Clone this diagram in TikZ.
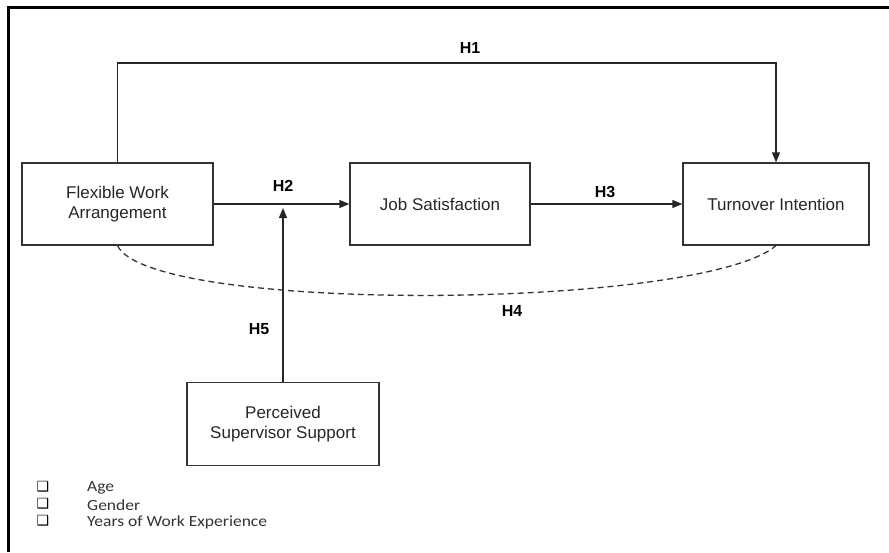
\documentclass[tikz,border=0pt]{standalone}
\usepackage{fontspec}
\setmainfont{Liberation Sans}
\newfontfamily\legendfont[FakeStretch=1.13]{Carlito}
\newfontfamily\boxsymfont{DejaVu Sans}
\usetikzlibrary{arrows.meta}

\begin{document}
\begin{tikzpicture}[x=1pt,y=-1pt,
    construct/.style={draw=black!80,line width=1.3pt,minimum height=82pt,inner sep=0pt,
        align=center,text=black!85,font=\fontsize{17}{20}\selectfont},
    hyp/.style={font=\bfseries\fontsize{16}{18}\selectfont},
    link/.style={line width=1.3pt,draw=black!85,-{Triangle[length=10pt,width=8pt]}},
    ctrl/.style={anchor=west,inner sep=0pt,text=black!80,font=\legendfont\fontsize{15.5}{17}\selectfont},
    tick/.style={inner sep=0pt,font=\boxsymfont\fontsize{14}{15}\selectfont}]

\path[use as bounding box] (0,0) rectangle (889,552);
\draw[line width=3pt] (889,7.5) -- (8.5,7.5) -- (8.5,552);

\node[construct,minimum width=191pt] (fwa) at (117.5,204) {Flexible Work\\Arrangement};
\node[construct,minimum width=180pt] (js) at (440,204) {Job Satisfaction};
\node[construct,minimum width=186pt] (ti) at (776,204) {Turnover Intention};
\node[construct,minimum width=192pt,minimum height=83pt] (pss) at (283,424) {Perceived\\Supervisor Support};

\coordinate (h2tip) at (283,208);

\draw[link] (fwa.north) -- (117.5,63) -- (ti.north |- 0,63) -- (ti.north);
\draw[link] (fwa.east) -- (js.west);
\draw[link] (js.east) -- (ti.west);
\draw[link] (pss.north) -- (h2tip);
\draw[line width=1.3pt,black!80,dash pattern=on 6pt off 4pt] (fwa.south) .. controls (150,314) and (700,310) .. (ti.south);

\node[hyp] (h1) at (470,48) {H1};
\node[hyp] (h2) at (283,186) {H2};
\node[hyp] (h3) at (605,192) {H3};
\node[hyp] (h4) at (512,311) {H4};
\node[hyp] (h5) at (259,329) {H5};

\node[tick] (t1) at (43,487) {❑};
\node[tick] (t2) at (43,504) {❑};
\node[tick] (t3) at (43,521) {❑};
\node[ctrl] (age) at (87,488) {Age};
\node[ctrl] (gender) at (87,505) {Gender};
\node[ctrl] (years) at (87,522) {Years of Work Experience};
\end{tikzpicture}
\end{document}
